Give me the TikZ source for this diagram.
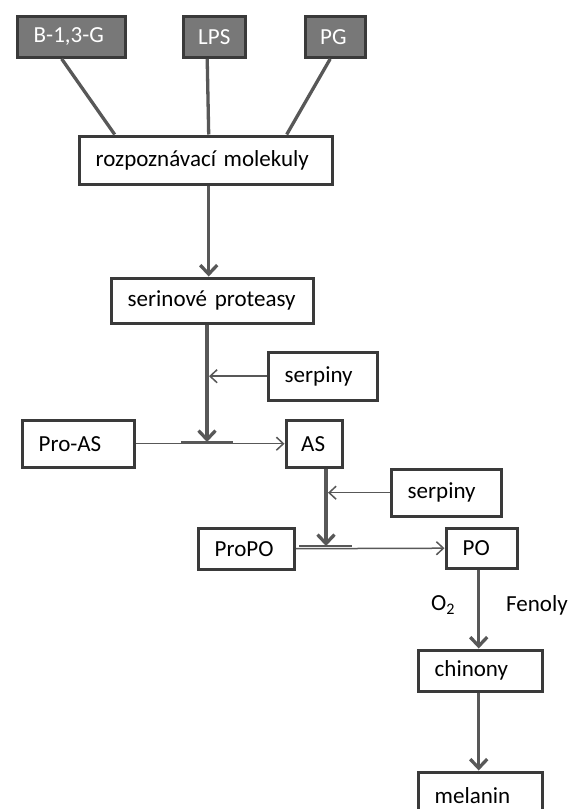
\documentclass[tikz,border=0pt]{standalone}
\usepackage{fontspec}
\setmainfont{Carlito}
\usetikzlibrary{arrows.meta}
\definecolor{boxc}{HTML}{3A3A3A}
\definecolor{arrc}{HTML}{585858}
\definecolor{fillc}{HTML}{787878}
\tikzset{
  box/.style={draw=boxc, line width=3.4pt, fill=white, inner xsep=16.5pt, inner ysep=0pt,
    align=left, anchor=north west, font=\fontsize{23}{27}\selectfont},
  graybox/.style={box, fill=fillc, text=white},
  thick arrow/.style={draw=arrc, line width=3.3pt, -{Straight Barb[length=9pt,width=17pt]}},
  thin arrow/.style={draw=arrc, line width=1.5pt, -{Straight Barb[length=7pt,width=13pt]}},
  plainline/.style={draw=arrc, line width=3.3pt},
  crossbar/.style={draw=boxc!85!white, line width=1.7pt},
  lbl/.style={font=\fontsize{23}{27}\selectfont, inner sep=0pt}
}
\begin{document}
\begin{tikzpicture}[x=1pt,y=-1pt]
\useasboundingbox (0,0) rectangle (568,809);
\clip (0,0) rectangle (568,809);
\fill[white] (0,0) rectangle (568,809);

% top inputs
\node[graybox, text width=75pt, minimum height=41pt] (b) at (15.5,14.5) {B-1,3-G};
\node[graybox, text width=32pt, minimum height=41pt, inner xsep=15pt] (lps) at (181.5,14.5) {LPS};
\node[graybox, text width=30pt, minimum height=41pt, inner xsep=15pt] (pg) at (303.5,14.5) {PG};

\node[box, text width=220pt, minimum height=48pt] (rozp) at (77.5,134.5) {rozpoznávací molekuly};
\node[box, text width=169pt, minimum height=45pt] (ser) at (109.5,276.5) {serinové proteasy};
\node[box, text width=76pt, minimum height=48pt] (sp1) at (266.5,350.5) {serpiny};
\node[box, text width=79pt, minimum height=47pt] (proas) at (20.5,418.5) {Pro-AS};
\node[box, text width=26pt, minimum height=47pt, inner xsep=15pt] (as) at (284.5,418.5) {AS};
\node[box, text width=77pt, minimum height=47pt] (sp2) at (389.5,467.5) {serpiny};
\node[box, text width=63pt, minimum height=41pt] (propo) at (196.5,526.5) {ProPO};
\node[box, text width=38pt, minimum height=40pt] (po) at (444.5,526.5) {PO};
\node[box, text width=91pt, minimum height=41pt] (chin) at (416.5,648.5) {chinony};
\node[box, text width=91pt, minimum height=47pt] (mel) at (416.5,770.5) {melanin};

\node[lbl] (o2) at (443,605) {O\textsubscript{2}};
\node[lbl] (fen) at (537,605) {Fenoly};

\coordinate (j1) at (207,442);
\coordinate (j2) at (326,546);

% connectors from inputs
\draw[plainline] ([xshift=-9.5pt]b.south) -- ([xshift=-91pt]rozp.north);
\draw[plainline] ([xshift=-7pt]lps.south) -- ([xshift=3pt]rozp.north);
\draw[plainline] ([xshift=-5pt]pg.south) -- ([xshift=81pt]rozp.north);

% main chain
\draw[thick arrow] ([xshift=3pt]rozp.south) -- ([xshift=3pt]rozp.south |- ser.north);
\draw[thin arrow] (proas.east) -- (as.west);
\draw[crossbar] ([xshift=-26pt]j1) -- ([xshift=26pt]j1);
\draw[thick arrow] (ser.south -| j1) -- (j1);
\draw[thin arrow] (sp1.west) -- ([xshift=2pt]sp1.west -| j1);

\draw[thin arrow] (propo.east) -- (po.west);
\draw[crossbar] ([xshift=-27pt]j2) -- ([xshift=26pt]j2);
\draw[thick arrow] (as.south -| j2) -- (j2);
\draw[thin arrow] (sp2.west) -- ([xshift=2pt]sp2.west -| j2);

\draw[thick arrow] ([xshift=-3pt]po.south) -- ([xshift=-3pt]po.south |- chin.north);
\draw[thick arrow] ([xshift=-1.5pt]chin.south) -- ([xshift=-1.5pt]chin.south |- mel.north);
\end{tikzpicture}
\end{document}
